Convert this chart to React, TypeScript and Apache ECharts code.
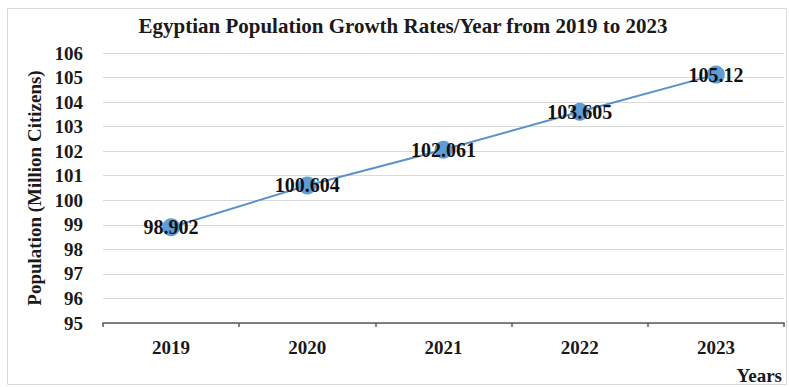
import React, { useEffect, useRef } from "react";
import * as echarts from "echarts";

const years = ["2019", "2020", "2021", "2022", "2023"];
const population = [98.902, 100.604, 102.061, 103.605, 105.12];
const yMin = 95;
const yMax = 106;
const yStep = 1;

const titleText = "Egyptian Population Growth Rates/Year from 2019 to 2023";
const yName = "Population (Million Citizens)";
const xName = "Years";

const FONT = '"Liberation Serif", "Times New Roman", serif';

export default function App() {
  const ref = useRef<HTMLDivElement>(null);
  useEffect(() => {
    document.body.style.margin = "0";
    const chart = echarts.init(ref.current!, null, { renderer: "svg" });
    chart.setOption({
      animation: false,
      backgroundColor: "#ffffff",
      grid: { left: 103, right: 5, top: 53, bottom: 64, containLabel: false },
      graphic: [
        {
          type: "rect",
          shape: { x: 7.5, y: 8.5, width: 779, height: 376 },
          style: { fill: "none", stroke: "#d9d9d9", lineWidth: 1 },
          silent: true,
        },
        {
          type: "text",
          x: 403,
          y: 26,
          style: {
            text: titleText,
            font: `bold 21px ${FONT}`,
            fill: "#1a1a1a",
            textAlign: "center",
            textVerticalAlign: "middle",
          },
        },
        {
          type: "text",
          x: 782,
          y: 375,
          style: {
            text: xName,
            font: `bold 19px ${FONT}`,
            fill: "#1a1a1a",
            textAlign: "right",
            textVerticalAlign: "middle",
          },
        },
      ],
      xAxis: {
        type: "category",
        data: years,
        boundaryGap: true,
        axisLine: { show: true, lineStyle: { color: "#595959", width: 1.5 } },
        axisTick: { show: true, length: 4, lineStyle: { color: "#595959", width: 1.5 } },
        axisLabel: {
          margin: 15,
          color: "#1a1a1a",
          fontFamily: FONT,
          fontWeight: "bold",
          fontSize: 19,
        },
      },
      yAxis: {
        type: "value",
        min: yMin,
        max: yMax,
        interval: yStep,
        name: yName,
        nameLocation: "middle",
        nameGap: 57,
        nameRotate: 90,
        nameTextStyle: {
          color: "#1a1a1a",
          fontFamily: FONT,
          fontWeight: "bold",
          fontSize: 19,
        },
        axisLine: { show: false },
        axisTick: { show: false },
        axisLabel: {
          margin: 20,
          color: "#1a1a1a",
          fontFamily: FONT,
          fontWeight: "bold",
          fontSize: 19,
        },
        splitLine: { show: true, lineStyle: { color: "#d9d9d9", width: 1 } },
      },
      series: [
        {
          type: "line",
          data: population,
          symbol: "circle",
          symbolSize: 18,
          itemStyle: { color: "#5f9dd8" },
          lineStyle: { color: "#5b91c8", width: 2 },
          label: {
            show: true,
            position: "inside",
            color: "#111111",
            fontFamily: FONT,
            fontWeight: "bold",
            fontSize: 20,
            formatter: (p: any) => String(p.value),
          },
        },
      ],
    });
    return () => chart.dispose();
  }, []);
  return <div ref={ref} style={{ width: 789, height: 387 }} />;
}
